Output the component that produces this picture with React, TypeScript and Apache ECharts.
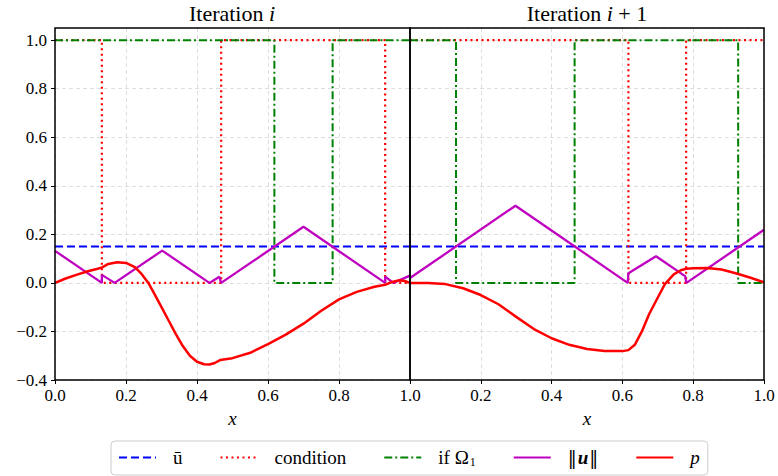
import React, { useEffect, useRef } from 'react';
import * as echarts from 'echarts';

const FONT = "'Liberation Serif', 'Times New Roman', serif";
const BAR_FONT = "'DejaVu Serif', serif";

const TITLES = ['Iteration {it|i}', 'Iteration {it|i} + 1'];
const X_TICKS = [0, 0.2, 0.4, 0.6, 0.8, 1.0];
const Y_TICKS = [-0.4, -0.2, 0, 0.2, 0.4, 0.6, 0.8, 1.0];

// ū (mean)
const ubarX = [0, 1];
const ubarY = [0.15, 0.15];

// condition (step)
const condLeftX = [0, 0.132, 0.132, 0.468, 0.468, 0.93, 0.93, 1.0];
const condLeftY = [1, 1, 0, 0, 1, 1, 0, 0];
const condRightX = [0, 0.617, 0.617, 0.78, 0.78, 1.0];
const condRightY = [1, 1, 0, 0, 1, 1];

// if Omega_1 (step)
const omegaLeftX = [0, 0.618, 0.618, 0.782, 0.782, 1.0];
const omegaLeftY = [1, 1, 0, 0, 1, 1];
const omegaRightX = [0, 0.13, 0.13, 0.465, 0.465, 0.927, 0.927, 1.0];
const omegaRightY = [1, 1, 0, 0, 1, 1, 0, 0];

// ||u||
const unormLeftX = [0, 0.132, 0.132, 0.168, 0.302, 0.435, 0.463, 0.468, 0.70, 0.93, 0.93, 0.953, 1.0];
const unormLeftY = [0.132, 0.0, 0.033, 0.0, 0.133, 0.0, 0.025, 0.0, 0.231, 0.0, 0.026, 0.0, 0.03];
const unormRightX = [0, 0.298, 0.615, 0.617, 0.695, 0.777, 0.781, 1.0];
const unormRightY = [0.02, 0.318, 0.0, 0.04, 0.11, 0.028, 0.0, 0.219];

// p
const pLeftX = [0, 0.03, 0.06, 0.09, 0.12, 0.133, 0.15, 0.175, 0.2, 0.225, 0.245, 0.263, 0.28, 0.3, 0.32, 0.34, 0.36, 0.38, 0.4, 0.42, 0.435, 0.45, 0.465, 0.5, 0.55, 0.6, 0.65, 0.7, 0.75, 0.8, 0.85, 0.9, 0.93, 0.95, 0.97, 0.985, 1.0];
const pLeftY = [0, 0.018, 0.033, 0.047, 0.058, 0.064, 0.078, 0.085, 0.082, 0.065, 0.035, 0.0, -0.045, -0.1, -0.155, -0.21, -0.26, -0.3, -0.325, -0.335, -0.336, -0.33, -0.318, -0.31, -0.288, -0.252, -0.213, -0.168, -0.115, -0.068, -0.037, -0.016, -0.008, 0.004, 0.011, 0.008, 0.0];
const pRightX = [0, 0.05, 0.1, 0.15, 0.2, 0.25, 0.3, 0.35, 0.4, 0.45, 0.5, 0.55, 0.6, 0.617, 0.635, 0.655, 0.675, 0.7, 0.72, 0.745, 0.765, 0.78, 0.8, 0.84, 0.88, 0.92, 0.96, 1.0];
const pRightY = [0, 0.0, -0.005, -0.022, -0.05, -0.088, -0.14, -0.19, -0.228, -0.255, -0.272, -0.281, -0.281, -0.277, -0.255, -0.2, -0.13, -0.06, -0.005, 0.035, 0.052, 0.058, 0.06, 0.061, 0.055, 0.04, 0.022, 0.002];

const LEGEND_LABELS: Record<string, string> = {
  ubar: '{t|ū}',
  condition: '{t|condition}',
  omega: '{t|if Ω}{s|1}',
  unorm: '{bar|‖}{b|u}{bar|‖}',
  p: '{i|p}',
};

const zip = (xs: number[], ys: number[]) => xs.map((x, i) => [x, ys[i]]);

const fmt = (v: number) => {
  const r = Math.round(v * 10) / 10;
  return r < 0 ? '\u2212' + Math.abs(r).toFixed(1) : r.toFixed(1);
};

const STYLES: Record<string, any> = {
  ubar: { color: '#0000ff', width: 2, type: [8, 4] },
  condition: { color: '#ff0000', width: 2.2, type: [2, 3.5] },
  omega: { color: '#008000', width: 2, type: [8, 3, 2, 3] },
  unorm: { color: '#bf00bf', width: 2.3, type: 'solid' },
  p: { color: '#ff0000', width: 2.5, type: 'solid' },
};

// plot frames (layout only)
const GRIDS = [
  { left: 55, top: 28, width: 355, height: 352 },
  { left: 410, top: 28, width: 354, height: 352 },
];

export default function App() {
  const ref = useRef<HTMLDivElement>(null);
  useEffect(() => {
    if (!ref.current) return;
    const chart = echarts.init(ref.current, undefined, { renderer: 'svg' });

    const splitLine = { show: true, lineStyle: { color: '#d6d6d6', width: 0.8, type: [4, 3] } };
    const tickStyle = { show: true, inside: false, length: 4, lineStyle: { color: '#000', width: 1 } };
    const tickText = { t: { fontFamily: FONT, fontSize: 17, color: '#000' } };

    const mk = (name: string, xs: number[], ys: number[], idx: number) => ({
      type: 'line',
      name,
      xAxisIndex: idx,
      yAxisIndex: idx,
      data: zip(xs, ys),
      symbol: 'none',
      showSymbol: false,
      silent: true,
      lineStyle: STYLES[name],
      itemStyle: { color: STYLES[name].color },
      emphasis: { disabled: true },
    });

    const xAxisBase = (gridIndex: number) => ({
      type: 'value',
      gridIndex,
      min: 0,
      max: 1,
      interval: 0.2,
      axisLine: { show: false, onZero: false },
      axisTick: tickStyle,
      axisLabel: {
        show: true,
        margin: 7,
        fontFamily: FONT,
        fontSize: 17,
        color: '#000',
        formatter: (v: number) => '{t|' + fmt(v) + '}',
        rich: tickText,
        showMinLabel: gridIndex === 0,
      },
      splitLine,
      name: '{x|x}',
      nameLocation: 'middle',
      nameGap: 23,
      nameTextStyle: { fontFamily: FONT, fontSize: 19, fontStyle: 'italic', color: '#000', rich: { x: { fontFamily: FONT, fontSize: 19, fontStyle: 'italic', color: '#000' } } },
    });

    const yAxisBase = (gridIndex: number) => ({
      type: 'value',
      gridIndex,
      min: -0.4,
      max: 1.05,
      interval: 0.2,
      axisLine: { show: false, onZero: false },
      axisTick: gridIndex === 0 ? { ...tickStyle, customValues: Y_TICKS } : { show: false },
      axisLabel: gridIndex === 0
        ? { show: true, margin: 8, fontFamily: FONT, fontSize: 17, color: '#000', formatter: (v: number) => '{t|' + fmt(v) + '}', rich: tickText, customValues: Y_TICKS }
        : { show: false },
      splitLine,
    });

    const titleStyle = {
      fontFamily: FONT, fontSize: 22, fontWeight: 'normal', color: '#000',
      rich: { it: { fontFamily: FONT, fontSize: 22, fontStyle: 'italic', color: '#000' } },
    };

    chart.setOption({
      animation: false,
      backgroundColor: '#ffffff',
      textStyle: { fontFamily: FONT, color: '#000' },
      title: [
        { text: TITLES[0], left: 232, top: 2, textAlign: 'center', padding: 0, textStyle: titleStyle },
        { text: TITLES[1], left: 587, top: 2, textAlign: 'center', padding: 0, textStyle: titleStyle },
      ],
      grid: GRIDS.map((g) => ({ ...g, show: false, containLabel: false })),
      xAxis: [xAxisBase(0), xAxisBase(1)],
      yAxis: [yAxisBase(0), yAxisBase(1)],
      graphic: GRIDS.map((g) => ({
        type: 'rect',
        z: 100,
        silent: true,
        shape: { x: g.left, y: g.top, width: g.width, height: g.height },
        style: { fill: 'none', stroke: '#000', lineWidth: 1.5 },
      })),
      legend: {
        show: true,
        left: 111,
        top: 441,
        orient: 'horizontal',
        data: ['ubar', 'condition', 'omega', 'unorm', 'p'],
        itemWidth: 37,
        itemHeight: 14,
        itemGap: 37,
        padding: [7, 8, 7, 7],
        borderColor: '#cccccc',
        borderWidth: 1,
        borderRadius: 4,
        backgroundColor: '#ffffff',
        selectedMode: false,
        itemStyle: { opacity: 0 },
        formatter: (n: string) => LEGEND_LABELS[n] ?? n,
        textStyle: {
          fontFamily: FONT,
          fontSize: 19,
          color: '#000',
          padding: [0, 0, 0, 12],
          rich: {
            t: { fontFamily: FONT, fontSize: 19, color: '#000' },
            s: { fontFamily: FONT, fontSize: 12, color: '#000', padding: [9, 0, 0, 1] },
            bar: { fontFamily: BAR_FONT, fontSize: 18, color: '#000' },
            b: { fontFamily: FONT, fontSize: 19, fontWeight: 'bold', fontStyle: 'italic', color: '#000', padding: [0, 1, 0, 1] },
            i: { fontFamily: FONT, fontSize: 19, fontStyle: 'italic', color: '#000' },
          },
        },
      },
      series: [
        mk('ubar', ubarX, ubarY, 0),
        mk('ubar', ubarX, ubarY, 1),
        mk('condition', condLeftX, condLeftY, 0),
        mk('condition', condRightX, condRightY, 1),
        mk('omega', omegaLeftX, omegaLeftY, 0),
        mk('omega', omegaRightX, omegaRightY, 1),
        mk('unorm', unormLeftX, unormLeftY, 0),
        mk('unorm', unormRightX, unormRightY, 1),
        mk('p', pLeftX, pLeftY, 0),
        mk('p', pRightX, pRightY, 1),
      ],
    });
    return () => chart.dispose();
  }, []);

  return (
    <div
      ref={ref}
      style={{ position: 'fixed', left: 0, top: 0, width: 778, height: 476, background: '#fff' }}
    />
  );
}
